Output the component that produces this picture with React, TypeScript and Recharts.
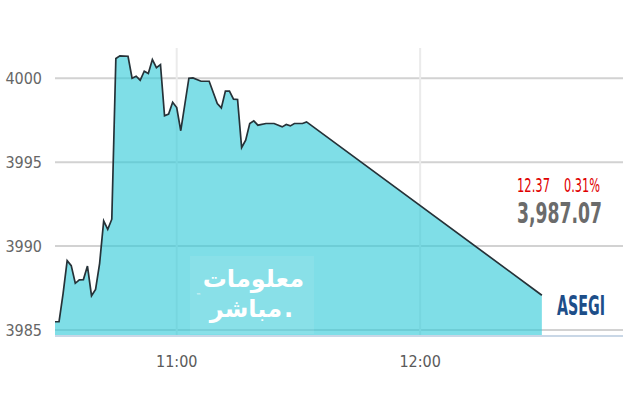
import { Area, AreaChart, CartesianGrid, XAxis, YAxis } from "recharts";

const times = [
  "10:30", "10:31", "10:32", "10:33", "10:34", "10:35", "10:36", "10:37", "10:38", "10:39",
  "10:40", "10:41", "10:42", "10:43", "10:44", "10:45", "10:46", "10:48", "10:49", "10:50",
  "10:51", "10:52", "10:53", "10:54", "10:55", "10:56", "10:57", "10:58", "10:59", "11:00",
  "11:01", "11:03", "11:04", "11:06", "11:08", "11:10", "11:11", "11:12", "11:13", "11:14",
  "11:15", "11:16", "11:17", "11:18", "11:19", "11:20", "11:22", "11:24", "11:26", "11:27",
  "11:28", "11:29", "11:31", "11:32", "12:30",
];

const index = [
  3985.49, 3985.49, 3987.18, 3989.13, 3988.83, 3987.78, 3987.98, 3988.0, 3988.81, 3987.04,
  3987.42, 3988.97, 3991.5, 3990.99, 3991.6, 4001.17, 4001.33, 4001.31, 4000.0, 4000.12,
  3999.88, 4000.42, 4000.28, 4001.11, 4000.63, 4000.81, 3997.76, 3997.86, 3998.57, 3998.25,
  3996.87, 4000.0, 4000.02, 3999.82, 3999.82, 3998.49, 3998.23, 3999.23, 3999.23, 3998.75,
  3998.73, 3995.87, 3996.31, 3997.3, 3997.46, 3997.2, 3997.3, 3997.3, 3997.1, 3997.24,
  3997.16, 3997.3, 3997.3, 3997.4, 3987.07,
];

const yTicks = [3985, 3990, 3995, 4000];
const xTickLabels = ["11:00", "12:00"];

const sessionStart = "10:30";
const sessionEnd = "12:50";

const change = "12.37";
const changePct = "0.31%";
const lastValue = "3,987.07";
const symbol = "ASEGI";

const toMin = (t: string) => {
  const [h, m] = t.split(":").map(Number);
  return h * 60 + m;
};

const data = times.map((t, i) => ({ t: toMin(t), v: index[i] }));

const narrow = "'Liberation Sans Narrow', 'DejaVu Sans Condensed', sans-serif";
const arabic = "'DejaVu Sans', sans-serif";

const fmt = (m: number) => {
  const h = Math.floor(m / 60);
  const mm = m % 60;
  return `${h}:${mm < 10 ? "0" : ""}${mm}`;
};

export default function App() {
  return (
    <div style={{ position: "fixed", left: 0, top: 0, width: 640, height: 400, background: "#fff" }}>
      <AreaChart width={640} height={400} data={data} margin={{ top: 48, right: 17, bottom: 34, left: 0 }}>
        <CartesianGrid
          vertical={false}
          stroke="#d2d2d2"
          strokeWidth={2}
          horizontalValues={yTicks}
        />
        <CartesianGrid
          horizontal={false}
          stroke="#ebebeb"
          strokeWidth={2}
          verticalValues={xTickLabels.map(toMin)}
        />
        <XAxis
          dataKey="t"
          type="number"
          domain={[toMin(sessionStart), toMin(sessionEnd)]}
          ticks={xTickLabels.map(toMin)}
          tickFormatter={fmt}
          height={30}
          tickSize={0}
          tickMargin={20}
          axisLine={{ stroke: "#c9d7e6", strokeWidth: 2 }}
          tickLine={false}
          tick={{ fill: "#5a5a5a", fontSize: 16, fontFamily: narrow }}
        />
        <YAxis
          type="number"
          domain={[3984.64, 4001.8]}
          ticks={yTicks}
          width={55}
          tickSize={0}
          tickMargin={13}
          axisLine={false}
          tickLine={false}
          tick={{ fill: "#666", fontSize: 16, fontFamily: narrow }}
        />
        <Area
          dataKey="v"
          type="linear"
          stroke="#263238"
          strokeWidth={1.7}
          fill="#30c9d9"
          fillOpacity={0.62}
          isAnimationActive={false}
          dot={false}
          activeDot={false}
        />
      </AreaChart>
      <svg width={640} height={400} style={{ position: "absolute", left: 0, top: 0, pointerEvents: "none" }}>
        <rect x={190} y={256} width={124} height={78} fill="#ffffff" fillOpacity={0.08} />
        <text x={304} y={287} textAnchor="end" fill="#fff" fontSize={24} fontWeight="bold" fontFamily={arabic}>
          معلومات
        </text>
        <text x={282} y={317} textAnchor="end" fill="#fff" fontSize={24} fontWeight="bold" fontFamily={arabic}>
          مباشر
        </text>
        <text x={284} y={317} fill="#fff" fontSize={24} fontWeight="bold" fontFamily={arabic}>.</text>
        <text x={196} y={297} fill="#fff" fontSize={5} fontFamily={arabic}>™</text>
        <text x={517} y={192} fill="#e00000" fontSize={19} fontFamily={narrow} textLength={33} lengthAdjust="spacingAndGlyphs">
          {change}
        </text>
        <text x={564} y={192} fill="#e00000" fontSize={19} fontFamily={narrow} textLength={36} lengthAdjust="spacingAndGlyphs">
          {changePct}
        </text>
        <text x={517} y={223} fill="#6b6b6b" fontSize={28} fontFamily={narrow} fontWeight="bold" textLength={85} lengthAdjust="spacingAndGlyphs">
          {lastValue}
        </text>
        <text x={557} y={315} fill="#1d4e89" fontSize={26} fontFamily={narrow} fontWeight="bold" textLength={48} lengthAdjust="spacingAndGlyphs">
          {symbol}
        </text>
      </svg>
    </div>
  );
}
